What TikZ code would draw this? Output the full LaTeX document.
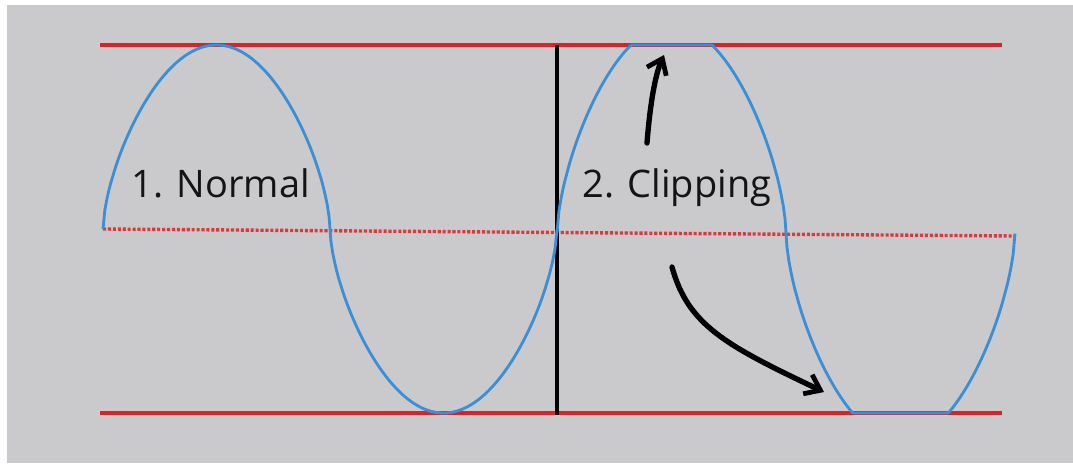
\documentclass[tikz,border=0pt]{standalone}
\usepackage{fontspec}
\setsansfont{Open Sans}
\usetikzlibrary{arrows.meta}
\definecolor{bggray}{HTML}{CACACD}
\definecolor{limred}{HTML}{D8232A}
\definecolor{wavblue}{HTML}{3A8FD6}
\begin{document}
\begin{tikzpicture}[x=0.025cm,y=-0.025cm,
	declare function={wv(\t)=sin(\t)*pow(max(abs(sin(\t)),0.0001),-0.38);},
	limit/.style={limred,line width=2.8pt},
	wave/.style={wavblue,line width=2pt},
	hand/.style={black,line width=3.8pt,line cap=round,-{Straight Barb[length=10pt,width=15pt,line width=3.4pt]}},
	lbl/.style={font=\sffamily\fontsize{27}{30}\selectfont,text=black!92,inner sep=0pt}]
	\useasboundingbox (0,0) rectangle (1073,463);
	\fill[bggray] (7,5) rectangle (1073,463);
	\draw[limit] (100,45) -- (1002,45);
	\draw[limit] (100,413) -- (1002,413);
	\draw[limred!90,line width=2.4pt,dash pattern=on 2.2pt off 1.3pt] (103,229) -- (1015,236);
	\draw[black,line width=2.2pt] (557,45) -- (557,415);
	\draw[wave] plot[domain=103:557,samples=240] (\x,{229-184*wv((\x-103)/454*360)});
	\draw[wave] plot[domain=557:1015,samples=240] (\x,{max(45,min(413,233-208*wv((\x-557)/458*360)))});
	\node[lbl] (normal) at (221,183) {1. Normal};
	\node[lbl] (clip) at (677,188) {2. Clipping};
	\coordinate (topflat) at (664,55);
	\coordinate (botflat) at (824,392);
	\coordinate (upstart) at (647,143);
	\coordinate (downstart) at (672,267);
	\draw[hand] (upstart) .. controls (650,105) and (655,75) .. (topflat);
	\draw[hand] (downstart) .. controls (688,325) and (725,345) .. (botflat);
\end{tikzpicture}
\end{document}
